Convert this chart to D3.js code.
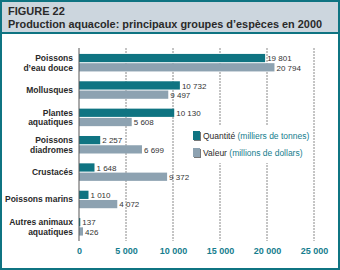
<!DOCTYPE html>
<html><head><meta charset="utf-8">
<script src="https://cdn.jsdelivr.net/npm/d3@7"></script>
<style>
body{margin:0;padding:0;background:#fff;}
svg{display:block;font-family:"Liberation Sans",Arial,sans-serif;}
</style></head>
<body>
<script>
const categories = [["Poissons","d’eau douce"],["Mollusques"],["Plantes","aquatiques"],["Poissons","diadromes"],["Crustacés"],["Poissons marins"],["Autres animaux","aquatiques"]];
const quantite = [19801, 10732, 10130, 2257, 1648, 1010, 137];
const valeur = [20794, 9497, 5608, 6699, 9372, 4072, 426];
const ticks = [0, 5000, 10000, 15000, 20000, 25000];
const fmt = v => d3.format(",")(v).replace(/,/g, " ");

const W = 340, H = 270;
const teal = "#0f7482", grey = "#8da2b1", tealText = "#157d8e";
const svg = d3.select("body").append("svg").attr("width", W).attr("height", H);

// frame
svg.append("rect").attr("x",0).attr("y",0).attr("width",W).attr("height",H).attr("fill","#fff");
svg.append("rect").attr("x",1).attr("y",1).attr("width",W-2).attr("height",32).attr("fill","#ccd6de");
svg.append("rect").attr("x",1).attr("y",1).attr("width",W-2).attr("height",H-2).attr("fill","none").attr("stroke",teal).attr("stroke-width",2);
svg.append("line").attr("x1",0).attr("x2",W).attr("y1",33).attr("y2",33).attr("stroke",teal).attr("stroke-width",2);
svg.append("text").attr("x",8).attr("y",15).text("FIGURE 22").attr("font-size",11).attr("font-weight","bold").attr("fill","#2a2a2a");
svg.append("text").attr("x",8).attr("y",28).text("Production aquacole: principaux groupes d’espèces en 2000").attr("font-size",10.5).attr("font-weight","bold").attr("fill","#2a2a2a").attr("textLength",314).attr("lengthAdjust","spacingAndGlyphs");

const x = d3.scaleLinear().domain([0,25000]).range([79,314]);
const y = d3.scaleBand().domain(d3.range(categories.length)).range([49,240.5]).paddingInner(0.36).paddingOuter(0.18);
const bh = y.bandwidth()/2;

// gridlines
const grid = svg.append("g");
ticks.slice(1).forEach(t => {
  grid.append("line").attr("x1",x(t)).attr("x2",x(t)).attr("y1",48).attr("y2",241)
    .attr("stroke","#8a8a8a").attr("stroke-width",1).attr("stroke-dasharray","2,1");
});

// bars
const g = svg.append("g");
categories.forEach((c,i) => {
  g.append("rect").attr("x",x(0)).attr("y",y(i)).attr("width",x(quantite[i])-x(0)).attr("height",bh-0.5).attr("fill",teal);
  g.append("rect").attr("x",x(0)).attr("y",y(i)+bh+0.5).attr("width",x(valeur[i])-x(0)).attr("height",bh-0.5).attr("fill",grey);
  g.append("text").attr("x",x(quantite[i])+2).attr("y",y(i)+bh/2+3).text(fmt(quantite[i])).attr("font-size",8).attr("fill","#333");
  g.append("text").attr("x",x(valeur[i])+2).attr("y",y(i)+bh*1.5+3.5).text(fmt(valeur[i])).attr("font-size",8).attr("fill","#333");
  const lab = g.append("text").attr("text-anchor","end").attr("font-size",8.5).attr("font-weight","bold").attr("fill","#2a2a2a");
  if (c.length === 2) {
    lab.append("tspan").attr("x",73).attr("y",y(i)+bh/2+3).text(c[0]);
    lab.append("tspan").attr("x",73).attr("y",y(i)+bh*1.5+3.5).text(c[1]);
  } else {
    lab.append("tspan").attr("x",73).attr("y",y(i)+bh+3).text(c[0]);
  }
});

// axis line
svg.append("line").attr("x1",x(0)).attr("x2",x(0)).attr("y1",48).attr("y2",241).attr("stroke","#555").attr("stroke-width",1);

// tick labels via d3 axis
const ax = svg.append("g").attr("transform","translate(0,243)").call(d3.axisBottom(x).tickValues(ticks).tickSize(0).tickFormat(fmt));
ax.select(".domain").remove();
ax.selectAll("text").attr("font-size",9).attr("font-weight","bold").attr("fill",tealText).attr("font-family","Liberation Sans,Arial,sans-serif").attr("dy","0.9em");

// legend
const lg = svg.append("g");
lg.append("rect").attr("x",190).attr("y",126).attr("width",121).attr("height",37).attr("fill","#fff");
const leg = [[teal,"Quantité","(milliers de tonnes)"],[grey,"Valeur","(millions de dollars)"]];
leg.forEach((d,i) => {
  const yy = 131 + i*17;
  lg.append("rect").attr("x",194).attr("y",yy+1).attr("width",7).attr("height",9).attr("fill","#777");
  lg.append("rect").attr("x",193).attr("y",yy).attr("width",7).attr("height",9).attr("fill",d[0]);
  const t = lg.append("text").attr("x",203).attr("y",yy+7.5).attr("font-size",8.5);
  t.append("tspan").text(d[1]).attr("fill","#2a2a2a");
  t.append("tspan").text(" " + d[2]).attr("fill",tealText);
});
</script>
</body></html>
